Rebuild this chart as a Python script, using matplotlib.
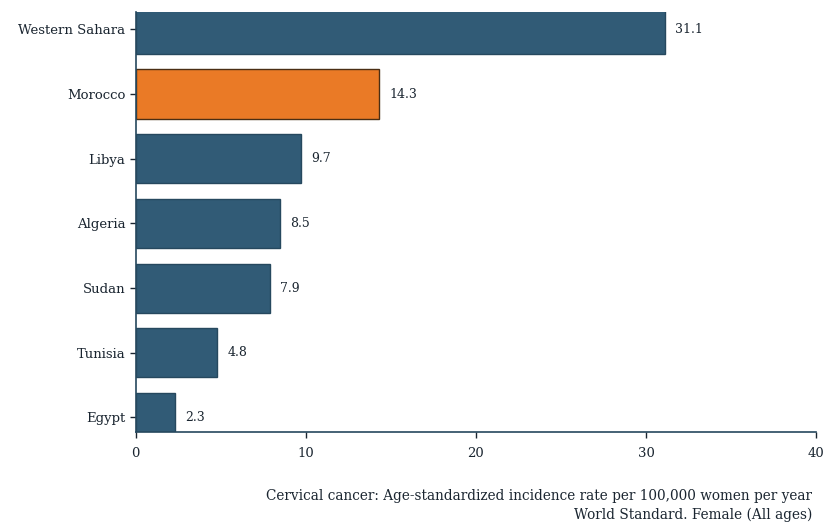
import matplotlib.pyplot as plt

# Data
countries = ["Western Sahara", "Morocco", "Libya", "Algeria", "Sudan", "Tunisia", "Egypt"]
rates = [31.1, 14.3, 9.7, 8.5, 7.9, 4.8, 2.3]
highlight = "Morocco"

blue = "#315b76"
orange = "#ea7a26"

plt.rcParams['font.family'] = ['DejaVu Serif']

fig = plt.figure(figsize=(8.23, 5.27), dpi=100)
ax = fig.add_axes([0.165, 0.18, 0.8265, 0.797])

ypos = list(range(len(countries)))[::-1]
colors = [orange if c == highlight else blue for c in countries]
edges = ["#4a2e14" if c == highlight else "#26485e" for c in countries]
ax.barh(ypos, rates, height=0.76, color=colors, edgecolor=edges, linewidth=1)

for y, v in zip(ypos, rates):
    ax.text(v + 0.6, y, f"{v}", va='center', ha='left', fontsize=9, color='#1a2530')

ax.set_xlim(0, 40)
ax.set_ylim(-0.227, len(countries) - 1 + 0.267)
ax.set_xticks([0, 10, 20, 30, 40])
ax.set_yticks(ypos)
ax.set_yticklabels(countries)
ax.tick_params(axis='both', labelsize=9.5, colors='#1a2530', length=4, width=1)
ax.tick_params(axis='x', pad=7)

for s in ['top', 'right']:
    ax.spines[s].set_visible(False)
for s in ['left', 'bottom']:
    ax.spines[s].set_color('#26485e')
    ax.spines[s].set_linewidth(1.2)

fig.text(0.987, 0.041, "Cervical cancer: Age-standardized incidence rate per 100,000 women per year\nWorld Standard. Female (All ages)",
         ha='right', va='center', fontsize=9.8, color='#1a2530', linespacing=1.35)

fig.savefig("out.png", dpi=100)
